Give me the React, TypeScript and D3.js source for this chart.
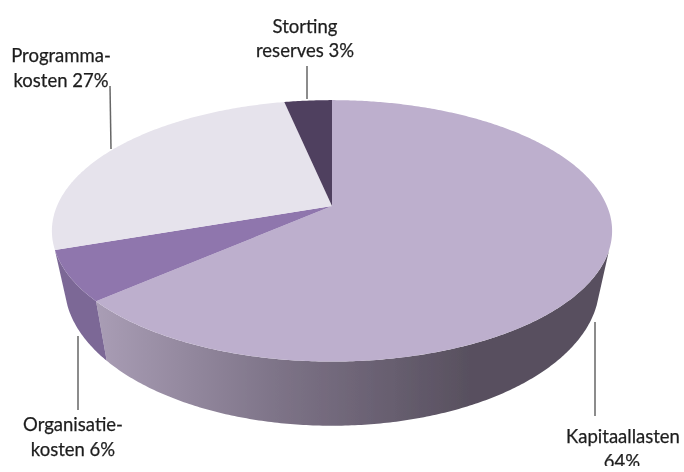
// App.tsx
import * as d3 from 'd3'

const WIDTH = 684
const HEIGHT = 472

const categories = ['Kapitaallasten', 'Organisatiekosten', 'Programmakosten', 'Storting reserves']
// the printed labels are these values rounded
const shares = [63.5, 6.2, 27, 3.3]
const topColors = ['#bdafcd', '#8f76ad', '#e6e3ec', '#4f3f5f']
const wallColors = ['url(#wall-kapitaal)', '#7c6896', '#c4c0ca', '#3f3350']

// Perspective of the tilted disc: apex of the slices, and the projection constants
const APEX = { x: 332, y: 206 }
const DISC_X = 275
const DISC_Y = 126
const TILT = 0.19
const WALL_DEPTH = 52
const WALL_SHRINK = 0.955 // the lower rim is further from the camera

const project = (a: number, drop = 0): [number, number] => {
  const w = 1 + TILT * Math.cos(a)
  const scale = drop ? WALL_SHRINK : 1
  return [
    APEX.x + (scale * DISC_X * Math.sin(a)) / w,
    APEX.y - (DISC_Y * Math.cos(a)) / w + drop / w,
  ]
}

// The side wall only shows over this part of the rim
const WALL_START = (109 * Math.PI) / 180
const WALL_END = 2 * Math.PI - WALL_START

const rimAngles = (a0: number, a1: number) => {
  const n = Math.max(2, Math.ceil((a1 - a0) / 0.01))
  return d3.range(n + 1).map(i => a0 + ((a1 - a0) * i) / n)
}

const line = d3.line<[number, number]>()

const slices = d3.pie<number>().sort(null)(shares)

const leaders = [
  { x1: 307, y1: 66, x2: 307, y2: 99 },
  { x1: 110, y1: 86, x2: 111, y2: 149 },
  { x1: 78, y1: 336, x2: 78, y2: 410 },
  { x1: 595, y1: 322, x2: 595, y2: 416 },
]

const labels = [
  { text: 'Storting', x: 305, y: 33 },
  { text: 'reserves 3%', x: 305, y: 57 },
  { text: 'Programma-', x: 61, y: 62 },
  { text: 'kosten 27%', x: 61, y: 87 },
  { text: 'Organisatie-', x: 73, y: 431 },
  { text: 'kosten 6%', x: 73, y: 456 },
  { text: 'Kapitaallasten', x: 623, y: 443 },
  { text: '64%', x: 622, y: 468 },
]

export default function App() {
  const topPaths = slices.map(s => {
    const rim = rimAngles(s.startAngle, s.endAngle).map(a => project(a))
    return line([[APEX.x, APEX.y], ...rim]) + 'Z'
  })

  const wallPaths = slices.map(s => {
    const a0 = Math.max(s.startAngle, WALL_START)
    const a1 = Math.min(s.endAngle, WALL_END)
    if (a1 <= a0) return null
    const angles = rimAngles(a0, a1)
    const upper = angles.map(a => project(a))
    const lower = angles.slice().reverse().map(a => project(a, WALL_DEPTH))
    return line([...upper, ...lower]) + 'Z'
  })

  return (
    <svg
      width={WIDTH}
      height={HEIGHT}
      viewBox={`0 0 ${WIDTH} ${HEIGHT}`}
      style={{ position: 'absolute', left: 0, top: 0, display: 'block', background: '#fff' }}
    >
      <defs>
        <linearGradient id="wall-kapitaal" gradientUnits="userSpaceOnUse" x1={97} x2={470} y1={0} y2={0}>
          <stop offset="0" stopColor="#a99db5" />
          <stop offset="0.5" stopColor="#7c7286" />
          <stop offset="1" stopColor="#58505f" />
        </linearGradient>
        <clipPath id="page-cut">
          <rect x={0} y={0} width={WIDTH} height={466} />
        </clipPath>
        <filter id="soft" x="-5%" y="-5%" width="110%" height="110%">
          <feGaussianBlur stdDeviation={0.5} />
        </filter>
      </defs>

      <g filter="url(#soft)">
        {leaders.map((l, i) => (
          <line key={i} {...l} stroke="#666666" strokeWidth={1.5} />
        ))}
        {wallPaths.map((d, i) =>
          d ? <path key={categories[i]} d={d} fill={wallColors[i]} /> : null
        )}
        {topPaths.map((d, i) => (
          <path key={categories[i]} d={d} fill={topColors[i]} />
        ))}
        <g clipPath="url(#page-cut)">
          {labels.map(l => (
            <text
              key={l.text}
              x={l.x}
              y={l.y}
              textAnchor="middle"
              fontFamily="Lato, 'Open Sans', sans-serif"
              fontSize={18.5}
              fill="#1f1f1f"
              stroke="#1f1f1f"
              strokeWidth={0.25}
            >
              {l.text}
            </text>
          ))}
        </g>
      </g>
    </svg>
  )
}
